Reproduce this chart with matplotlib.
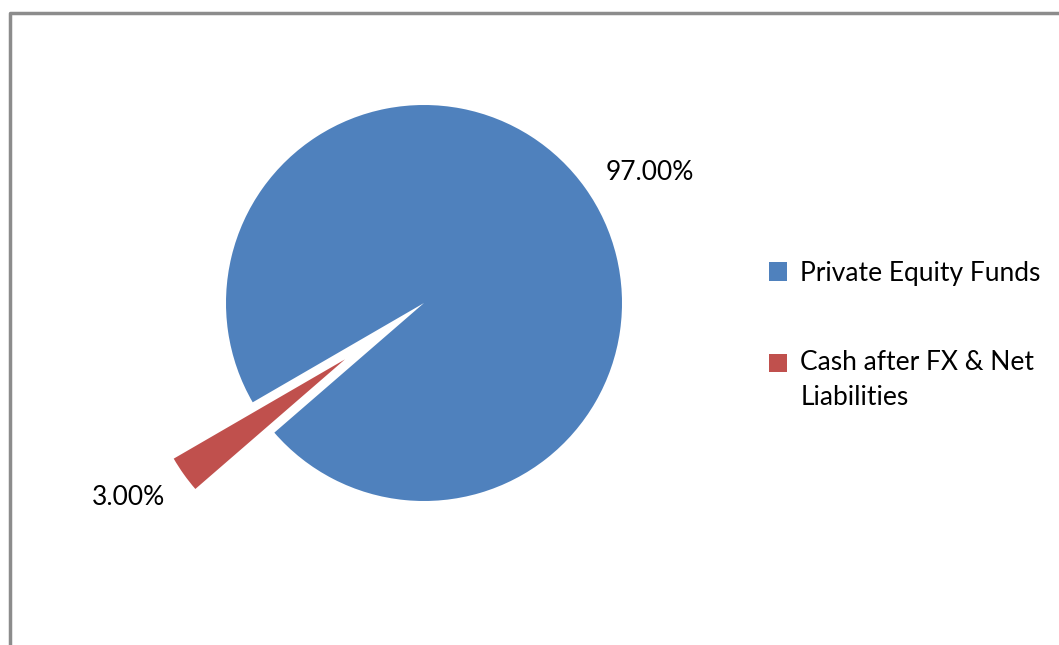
import matplotlib.pyplot as plt
from matplotlib.lines import Line2D

plt.rcParams['font.family'] = ['Lato', 'DejaVu Sans']

labels = ['Private Equity Funds', 'Cash after FX & Net\nLiabilities']
shares = [97.0, 3.0]
colors = ['#4F81BD', '#C0504D']
explode = [0, 0.49]

W, H = 1059, 645
fig = plt.figure(figsize=(W / 100, H / 100), dpi=100)

# pie axes: centre ~ (424, 303) px, radius ~198 px, limits +-1.6
R = 198
half = 1.6 * R
ax = fig.add_axes([(424 - half) / W, (H - 303 - half) / H, 2 * half / W, 2 * half / H])
wedges, texts, autotexts = ax.pie(
    shares, colors=colors, explode=explode, startangle=210.1, counterclock=False,
    autopct='%.2f%%', pctdistance=1.3, wedgeprops=dict(linewidth=0),
    textprops=dict(fontsize=19, color='black'))
# Excel puts the data labels a bit off the bisector
autotexts[0].set_position((1.14, 0.66))
autotexts[1].set_position((-1.49, -0.98))
ax.set_xlim(-1.6, 1.6)
ax.set_ylim(-1.6, 1.6)
ax.set_aspect('equal')
ax.axis('off')

leg = fig.legend(wedges, labels, loc='upper left', bbox_to_anchor=(745 / W, 1 - 237 / H),
                 frameon=False, fontsize=19, handlelength=0.7, handleheight=0.7,
                 handletextpad=0.5, labelspacing=2.45)
leg.get_texts()[1].set_linespacing(1.5)
# square of the two-line entry sits level with its first line
p = leg.get_patches()[1]
p.set_y(p.get_y() + 13)

# chart frame (only top and left edges visible)
fig.add_artist(Line2D([10 / W, 10 / W, 1], [0, 1 - 13 / H, 1 - 13 / H],
                      transform=fig.transFigure, color='#8c8c8c', lw=2.5))

fig.savefig('out.png', dpi=100)
